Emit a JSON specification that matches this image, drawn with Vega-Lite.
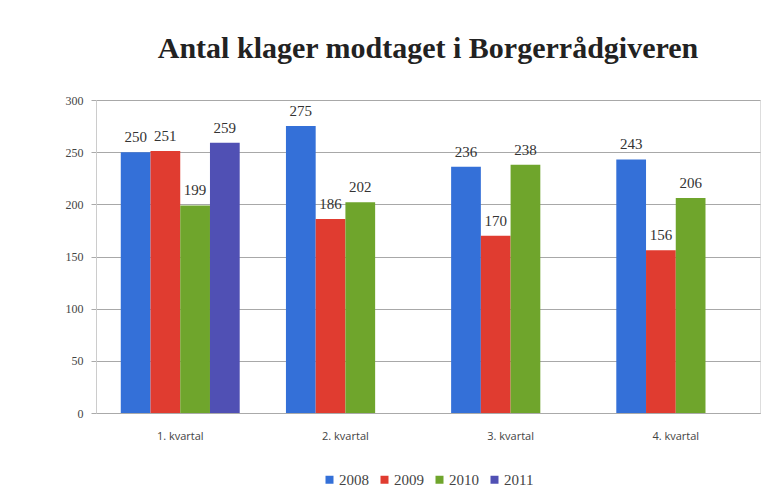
{
  "$schema": "https://vega.github.io/schema/vega-lite/v6.json",
  "autosize": {"type": "none"},
  "width": 664,
  "height": 313,
  "padding": {"left": 96, "top": 100, "right": 9, "bottom": 81},
  "background": "white",
  "title": {
    "text": "Antal klager modtaget i Borgerrådgiveren",
    "font": "Liberation Serif",
    "fontSize": 30,
    "fontWeight": "bold",
    "color": "#222222",
    "anchor": "middle",
    "offset": 30
  },
  "data": {
    "values": [
      {"kvartal": "1. kvartal", "year": "2008", "value": 250},
      {"kvartal": "1. kvartal", "year": "2009", "value": 251},
      {"kvartal": "1. kvartal", "year": "2010", "value": 199},
      {"kvartal": "1. kvartal", "year": "2011", "value": 259},
      {"kvartal": "2. kvartal", "year": "2008", "value": 275},
      {"kvartal": "2. kvartal", "year": "2009", "value": 186},
      {"kvartal": "2. kvartal", "year": "2010", "value": 202},
      {"kvartal": "3. kvartal", "year": "2008", "value": 236},
      {"kvartal": "3. kvartal", "year": "2009", "value": 170},
      {"kvartal": "3. kvartal", "year": "2010", "value": 238},
      {"kvartal": "4. kvartal", "year": "2008", "value": 243},
      {"kvartal": "4. kvartal", "year": "2009", "value": 156},
      {"kvartal": "4. kvartal", "year": "2010", "value": 206}
    ]
  },
  "encoding": {
    "x": {
      "field": "kvartal",
      "type": "nominal",
      "scale": {"paddingInner": 0.28, "paddingOuter": 0.15},
      "axis": {
        "title": null,
        "labelAngle": 0,
        "ticks": false,
        "labelPadding": 17,
        "labelFont": "Open Sans",
        "labelFontSize": 11,
        "labelColor": "#444444",
        "domainColor": "#aaaaaa",
        "grid": false
      }
    },
    "xOffset": {"field": "year", "type": "nominal", "scale": {"domain": ["2008", "2009", "2010", "2011"]}},
    "y": {
      "field": "value",
      "type": "quantitative",
      "scale": {"domain": [0, 300]},
      "axis": {
        "title": null,
        "values": [0, 50, 100, 150, 200, 250, 300],
        "labelFont": "Liberation Serif",
        "labelFontSize": 12,
        "labelColor": "#444444",
        "tickSize": 5,
        "tickColor": "#aaaaaa",
        "labelPadding": 8,
        "domainColor": "#cccccc",
        "gridColor": "#a8a8a8"
      }
    }
  },
  "layer": [
    {
      "mark": {"type": "bar"},
      "encoding": {
        "color": {
          "field": "year",
          "type": "nominal",
          "scale": {"domain": ["2008", "2009", "2010", "2011"], "range": ["#3470d8", "#e03c30", "#6fa52c", "#5050b4"]},
          "legend": {
            "title": null,
            "orient": "none",
            "legendX": 226,
            "legendY": 372,
            "direction": "horizontal",
            "symbolType": "square",
            "symbolSize": 64,
            "symbolStrokeWidth": 0,
            "labelFont": "Liberation Serif",
            "labelFontSize": 15,
            "labelColor": "#444444",
            "labelOffset": 2,
            "columnPadding": 8
          }
        }
      }
    },
    {
      "mark": {"type": "text", "baseline": "bottom", "dy": -7, "font": "Liberation Serif", "fontSize": 15, "color": "#333333"},
      "encoding": {"text": {"field": "value", "type": "quantitative"}}
    }
  ]
}
